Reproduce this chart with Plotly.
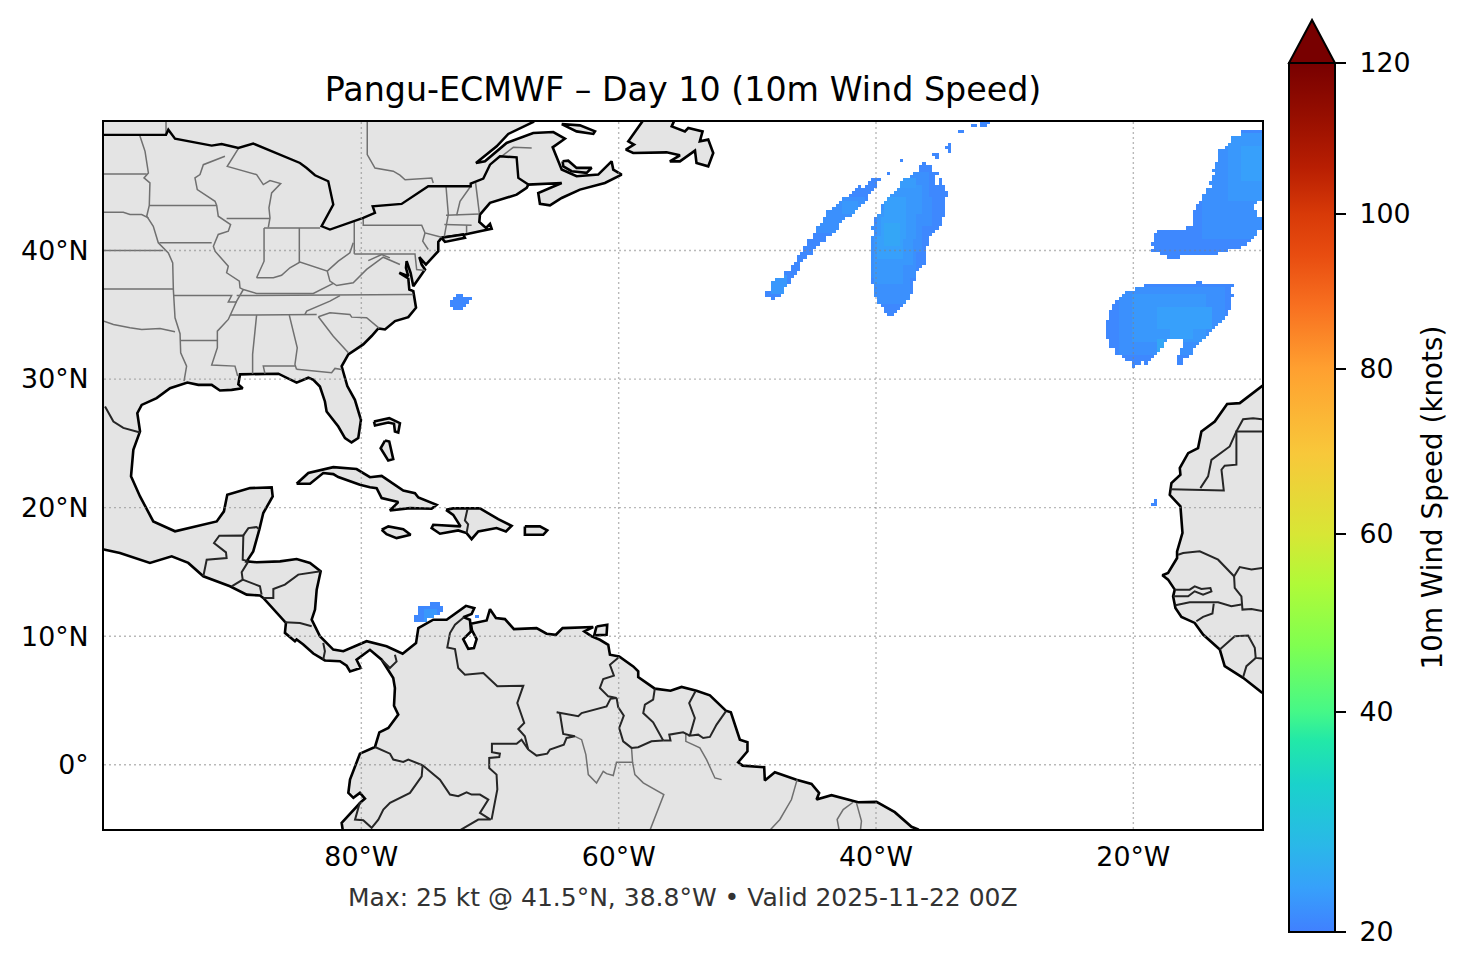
import numpy as np
import plotly.graph_objects as go

LON_TICKS = [-80, -60, -40, -20]
LON_LABELS = ["80°W", "60°W", "40°W", "20°W"]
LAT_TICKS = [0, 10, 20, 30, 40]
LAT_LABELS = ["0°", "10°N", "20°N", "30°N", "40°N"]

# colorbar is not linear in knots, these are where the ticks sit along it
CBAR_SPEEDS = [20, 40, 60, 80, 100, 120]
CBAR_POS = [0, 0.2532, 0.4580, 0.6479, 0.8263, 1]
CBAR_STOPS = [0, 0.05, 0.10, 0.17, 0.22, 0.253, 0.33, 0.40, 0.458, 0.55, 0.648, 0.72, 0.78, 0.826, 0.88, 0.94, 1]
CBAR_COLORS = ["#4080ff", "#37a0fb", "#2ab8e8", "#1ad2cb", "#22e8a8", "#45f888", "#80ff50", "#b0fa38", "#d8e635",
               "#f8c83a", "#ffa030", "#f87020", "#e84c10", "#d83a08", "#b81e02", "#960e00", "#780000"]

# lon, lat
MAINLAND = [(-101, 51), (-66.64, 51), (-66.64, 50.0), (-68.58, 49.07), (-69.48, 48.11), (-71.09, 46.81), (-70.39, 46.94),
    (-68.71, 48.37), (-66.64, 49.14), (-65.08, 49.22), (-64.18, 48.7), (-65.13, 48.03), (-64.43, 46.3), (-63.27, 45.78),
    (-61.59, 45.91), (-60.55, 46.94), (-60.42, 46.3), (-59.77, 45.91), (-61.07, 45.26), (-63.01, 44.74), (-64.43, 44.09),
    (-65.34, 43.52), (-66.12, 43.63), (-66.25, 44.48), (-64.43, 45.26), (-67.02, 45.13), (-67.15, 44.87), (-67.93, 44.35),
    (-70.0, 43.71), (-70.78, 42.8), (-70.83, 42.23), (-70.31, 41.76), (-70.0, 42.07), (-69.87, 41.69), (-70.78, 41.5),
    (-71.95, 41.25), (-73.76, 40.99), (-74.02, 40.67), (-74.02, 39.95), (-74.98, 38.91), (-75.49, 39.48), (-75.31, 38.91),
    (-75.05, 38.52), (-75.96, 37.23), (-76.17, 38.27), (-76.48, 39.17), (-76.53, 38.65), (-76.35, 38.0), (-77.05, 38.27),
    (-76.35, 37.83), (-76.27, 36.97), (-75.96, 36.84), (-75.75, 35.55), (-76.35, 34.82), (-77.38, 34.51), (-78.16, 33.86),
    (-78.68, 33.94), (-79.2, 33.35), (-79.85, 32.7), (-81.01, 31.92), (-81.53, 31.0), (-81.09, 29.46), (-80.5, 28.39),
    (-80.03, 26.83), (-80.24, 25.41), (-80.76, 25.07), (-81.27, 25.41), (-81.79, 26.31), (-82.7, 27.48), (-82.83, 28.26),
    (-83.22, 29.42), (-83.73, 29.94), (-84.12, 30.11), (-85.03, 29.72), (-86.45, 30.42), (-89.43, 30.37), (-89.56, 29.59),
    (-89.22, 29.29), (-90.08, 29.16), (-90.99, 29.11), (-91.63, 29.55), (-92.67, 29.55), (-93.52, 29.73), (-94.87, 29.29),
    (-95.91, 28.52), (-97.07, 27.99), (-97.41, 27.35), (-97.2, 25.93), (-97.72, 24.5), (-97.9, 22.43), (-97.2, 20.87),
    (-96.17, 18.93), (-94.48, 18.16), (-92.8, 18.54), (-91.24, 18.93), (-90.68, 19.71), (-90.42, 21.0), (-88.65, 21.52),
    (-86.97, 21.57), (-86.89, 20.87), (-87.62, 19.58), (-87.93, 18.29), (-88.27, 17.2), (-88.4, 16.6), (-88.91, 15.82),
    (-88.14, 15.75), (-86.32, 15.82), (-85.03, 16.0), (-83.99, 15.7), (-83.16, 15.05), (-83.47, 13.62), (-83.6, 12.07),
    (-83.86, 11.29), (-83.22, 10.0), (-82.18, 8.96), (-81.4, 8.83), (-79.59, 9.61), (-78.04, 9.22), (-76.79, 8.63),
    (-75.75, 9.46), (-75.57, 10.63), (-74.41, 11.28), (-73.37, 11.28), (-71.87, 12.36), (-71.22, 12.18), (-71.43, 11.72),
    (-72.08, 11.48), (-71.56, 11.28), (-71.48, 10.37), (-72.08, 9.77), (-71.69, 9.02), (-71.25, 9.07), (-71.04, 9.77),
    (-71.4, 10.45), (-71.48, 10.97), (-70.26, 11.22), (-70.0, 12.1), (-69.54, 11.41), (-68.84, 11.33), (-68.14, 10.55),
    (-66.38, 10.63), (-65.6, 10.19), (-64.88, 10.11), (-64.36, 10.63), (-61.98, 10.71), (-62.67, 10.37), (-62.1, 9.98),
    (-61.46, 9.72), (-60.81, 9.33), (-60.68, 8.56), (-59.96, 8.43), (-58.87, 7.65), (-58.48, 7.26), (-58.48, 6.82),
    (-57.19, 5.92), (-55.97, 5.76), (-55.11, 6.05), (-53.95, 5.76), (-52.91, 5.4), (-51.67, 4.21), (-51.28, 4.08),
    (-50.58, 1.95), (-49.99, 1.75), (-49.99, 1.05), (-50.71, 0.19), (-50.37, -0.07), (-48.69, -0.2), (-48.64, -1.23),
    (-47.86, -0.59), (-46.18, -1.16), (-45.01, -1.49), (-44.42, -2.19), (-44.62, -2.71), (-43.46, -2.37), (-41.39, -2.92),
    (-39.96, -2.89), (-38.54, -3.69), (-37.24, -4.83), (-36.73, -5.04), (-36.0, -5.6), (-81.45, -5.6), (-81.45, -5.04),
    (-81.53, -4.52), (-80.62, -3.49), (-80.05, -2.92), (-79.72, -2.63), (-80.11, -2.19), (-80.62, -2.58), (-81.01, -2.19),
    (-80.88, -1.16), (-80.11, 0.86), (-78.94, 1.38), (-78.6, 2.52), (-77.9, 2.86), (-77.13, 3.9), (-77.46, 4.59),
    (-77.39, 5.97), (-77.52, 6.74), (-78.42, 8.17), (-79.33, 8.94), (-80.37, 8.17), (-80.05, 7.52), (-80.88, 7.26),
    (-81.14, 7.7), (-81.66, 8.05), (-82.83, 8.11), (-83.73, 8.65), (-84.51, 9.35), (-85.03, 9.74), (-85.16, 9.61),
    (-85.94, 10.26), (-85.86, 11.03), (-87.62, 12.97), (-87.88, 13.16), (-88.91, 13.23), (-90.21, 13.88), (-92.28, 14.66),
    (-93.45, 15.7), (-94.74, 16.21), (-96.43, 15.7), (-98.76, 16.47), (-99.92, 16.73), (-101, 16.9)]

AFRICA = [(-10.05, 29.42), (-11.73, 28.13), (-12.71, 28.07), (-13.67, 26.7), (-14.71, 25.93), (-14.97, 24.63), (-15.74, 24.24),
    (-16.39, 23.08), (-16.34, 22.56), (-17.04, 21.91), (-17.17, 21.0), (-16.34, 20.1), (-16.18, 18.03), (-16.6, 16.6),
    (-16.6, 16.08), (-17.3, 14.92), (-17.74, 14.74), (-17.3, 14.4), (-16.78, 13.62), (-16.91, 13.1), (-16.73, 12.2),
    (-16.26, 11.5), (-15.23, 11.03), (-14.58, 10.13), (-13.28, 8.96), (-12.9, 7.67), (-11.47, 6.76), (-10.05, 5.65),
    (-9, 5.0), (-9, 30.2)]

NEWFOUNDLAND = [(-57.83, 50.5), (-59.25, 48.5), (-58.81, 48.24), (-59.44, 47.85), (-58.87, 47.59), (-56.28, 47.64), (-55.24, 47.41),
    (-56.02, 46.94), (-55.24, 46.94), (-54.07, 47.77), (-53.95, 46.81), (-53.04, 46.55), (-52.65, 47.59), (-53.04, 48.63),
    (-53.69, 48.5), (-53.48, 49.27), (-54.59, 49.53), (-54.85, 49.27), (-55.88, 49.66), (-55.5, 50.5)]
ANTICOSTI = [(-64.43, 49.84), (-63.01, 49.74), (-61.84, 49.27), (-61.97, 49.07), (-63.27, 49.27)]
PEI = [(-64.36, 46.94), (-63.92, 46.99), (-63.27, 46.43), (-62.1, 46.43), (-62.49, 46.04), (-63.66, 46.17), (-64.3, 46.55)]
LONG_ISLAND = [(-73.76, 40.99), (-72.08, 41.25), (-71.95, 40.99), (-73.5, 40.67)]
CUBA = [(-85.03, 21.86), (-84.12, 22.69), (-82.18, 23.15), (-80.37, 23.0), (-79.33, 22.37), (-78.42, 22.47), (-76.74, 21.33),
    (-75.83, 21.13), (-75.57, 20.79), (-74.15, 20.22), (-74.54, 19.91), (-76.22, 19.96), (-77.78, 19.78), (-77.13, 20.43),
    (-78.42, 20.74), (-78.81, 21.52), (-79.33, 21.59), (-80.11, 21.78), (-81.79, 22.38), (-82.18, 22.61), (-82.96, 22.69),
    (-83.99, 21.86)]
JAMAICA = [(-78.42, 18.28), (-77.9, 18.54), (-76.74, 18.33), (-76.17, 17.89), (-77.26, 17.63), (-78.04, 17.94)]
HISPANIOLA = [(-73.42, 19.83), (-72.86, 19.94), (-70.78, 19.94), (-69.36, 19.11), (-68.32, 18.59), (-68.76, 18.15), (-69.49, 18.41),
    (-70.52, 18.23), (-70.91, 18.15), (-71.43, 17.55), (-71.82, 18.02), (-72.47, 18.23), (-73.89, 17.97), (-74.54, 18.41),
    (-74.41, 18.67), (-72.29, 18.54), (-72.86, 19.44)]
PUERTO_RICO = [(-67.29, 18.54), (-66.12, 18.54), (-65.55, 18.23), (-65.86, 17.89), (-67.29, 17.89)]
BAHAMAS_N = [(-79.02, 26.7), (-77.83, 26.96), (-77.0, 26.57), (-77.13, 25.84), (-77.39, 25.92), (-77.46, 26.52), (-77.91, 26.62), (-78.94, 26.39)]
BAHAMAS_S = [(-78.16, 25.22), (-77.83, 25.14), (-77.52, 23.77), (-77.91, 23.67), (-78.5, 24.62)]
TRINIDAD = [(-61.72, 10.76), (-60.89, 10.89), (-60.94, 10.11), (-61.9, 10.06)]

ISLANDS = [NEWFOUNDLAND, ANTICOSTI, PEI, LONG_ISLAND, CUBA, JAMAICA, HISPANIOLA, PUERTO_RICO, BAHAMAS_N, BAHAMAS_S, TRINIDAD]

US_CANADA = [(-100.5, 49.0), (-95.18, 49.0), (-95.0, 49.4), (-94.48, 48.7), (-91.63, 48.16), (-90.86, 48.29), (-89.56, 47.98),
    (-88.4, 48.32), (-84.77, 46.81), (-84.25, 46.42), (-83.6, 45.86), (-82.57, 45.39), (-82.18, 43.58), (-83.09, 41.89),
    (-82.44, 41.63), (-79.85, 42.54), (-78.94, 42.93), (-79.12, 43.45), (-76.87, 43.63), (-74.8, 45.0), (-71.5, 45.0),
    (-71.5, 45.21), (-70.52, 45.6), (-70.0, 46.68), (-69.23, 47.33), (-67.93, 47.25), (-67.8, 45.65), (-67.02, 45.13)]

COUNTRY_BORDERS = [
    [(-99.92, 27.87), (-99.27, 26.7), (-98.5, 26.2), (-97.2, 25.85)],
    [(-92.28, 14.66), (-92.02, 15.95), (-90.47, 16.08), (-90.52, 16.52), (-91.45, 17.25), (-91.04, 17.82), (-89.17, 17.84), (-89.22, 15.95), (-88.78, 15.82)],
    [(-89.17, 17.84), (-88.78, 18.41), (-88.14, 18.49), (-87.93, 18.29)],
    [(-88.78, 15.82), (-89.3, 14.97), (-89.22, 14.4), (-90.08, 13.88)],
    [(-89.22, 14.4), (-87.88, 13.88), (-87.75, 13.23)],
    [(-87.62, 12.97), (-86.84, 12.97), (-86.84, 13.67), (-85.94, 14.01), (-84.9, 14.79), (-83.16, 15.05)],
    [(-85.94, 11.08), (-84.77, 11.03), (-83.86, 10.77)],
    [(-82.96, 9.48), (-82.83, 8.83), (-82.96, 8.18)],
    [(-77.39, 8.56), (-77.26, 8.04), (-77.78, 7.52), (-78.42, 8.17)],
    [(-72.03, 11.48), (-72.72, 10.89), (-73.11, 10.24), (-73.32, 9.13), (-72.72, 9.0), (-72.47, 7.52), (-71.95, 7.0), (-70.52, 7.13),
     (-69.43, 6.1), (-67.41, 6.15), (-67.88, 4.8), (-67.34, 3.25), (-67.8, 2.78), (-67.29, 2.21), (-67.03, 1.18)],
    [(-67.03, 1.18), (-67.55, 1.95), (-67.93, 1.64), (-69.85, 1.64), (-69.85, 0.97), (-69.23, 0.86), (-69.28, 0.6), (-70.06, 0.53),
     (-70.06, -0.25), (-69.49, -0.77), (-69.43, -1.93), (-69.88, -4.27)],
    [(-78.94, 1.38), (-77.77, 0.86), (-77.52, 0.4), (-76.74, 0.22), (-76.35, 0.4), (-75.24, -0.04)],
    [(-75.24, -0.04), (-73.89, -1.16), (-73.11, -2.32), (-72.47, -2.45), (-71.82, -2.14), (-71.43, -2.32), (-70.78, -2.32),
     (-70.13, -2.71), (-70.78, -3.75), (-69.95, -4.27), (-70.91, -4.27), (-72.34, -5.1)],
    [(-75.24, -0.04), (-75.31, -0.9), (-76.22, -2.19), (-77.77, -2.97), (-78.29, -3.49), (-78.68, -4.27), (-79.2, -4.91),
     (-79.85, -4.32), (-80.49, -4.27), (-80.24, -3.36), (-80.11, -2.92)],
    [(-67.03, 1.18), (-66.38, 0.71), (-65.55, 0.86), (-65.34, 1.18), (-64.26, 1.56), (-64.05, 2.08), (-63.4, 2.21), (-64.31, 2.39),
     (-64.57, 4.02), (-64.82, 4.08), (-63.14, 3.77), (-62.88, 4.02), (-60.94, 4.54), (-60.63, 5.14), (-60.16, 5.19)],
    [(-60.16, 5.19), (-60.81, 5.32), (-61.46, 5.97), (-61.2, 6.67), (-60.37, 6.93), (-60.68, 7.78), (-59.96, 8.38)],
    [(-60.16, 5.19), (-60.04, 4.49), (-59.6, 3.82), (-59.96, 2.86), (-59.65, 1.82), (-59.0, 1.31), (-58.48, 1.36), (-57.45, 1.82), (-56.54, 1.88)],
    [(-57.19, 5.92), (-57.32, 5.06), (-57.96, 4.67), (-58.09, 4.02), (-57.32, 3.3), (-56.54, 1.88)],
    [(-56.54, 1.88), (-55.97, 1.88), (-56.07, 2.34), (-54.99, 2.52), (-54.47, 2.26)],
    [(-54.03, 5.71), (-54.52, 4.8), (-54.08, 3.64), (-54.47, 2.26), (-53.82, 2.34), (-53.43, 2.08), (-52.91, 2.16), (-52.39, 3.12), (-51.67, 4.15)],
    [(-17.12, 21.44), (-12.97, 21.34), (-13.15, 22.95), (-12.9, 23.26), (-11.99, 23.34), (-11.99, 25.93), (-9.5, 25.93)],
    [(-14.79, 21.52), (-14.19, 22.43), (-13.93, 23.72), (-12.51, 24.76), (-11.99, 25.93), (-11.47, 26.88), (-10.69, 26.96), (-9.5, 26.83)],
    [(-16.52, 16.34), (-16.13, 16.47), (-14.84, 16.6), (-13.41, 15.95), (-12.17, 14.66), (-11.73, 15.38), (-10.82, 15.18), (-9.5, 15.38)],
    [(-12.17, 14.66), (-12.12, 13.76), (-11.6, 13.1), (-11.52, 12.07), (-10.82, 12.12), (-9.5, 11.86)],
    [(-16.78, 13.62), (-15.62, 13.62), (-15.23, 13.88), (-14.71, 13.67), (-14.01, 13.75), (-13.93, 13.49), (-14.58, 13.23), (-15.23, 13.49), (-15.74, 13.1), (-16.91, 13.1)],
    [(-16.73, 12.41), (-15.62, 12.64), (-13.41, 12.64), (-12.38, 12.33), (-11.6, 12.46)],
    [(-13.75, 12.54), (-13.85, 11.76), (-14.58, 11.5), (-15.1, 11.16)],
    [(-13.28, 8.96), (-12.12, 9.99), (-11.08, 10.05), (-10.56, 9.09), (-10.49, 8.31), (-9.5, 8.2)],
    [(-11.47, 6.81), (-11.21, 7.67), (-10.49, 8.31)],
    [(-71.75, 19.9), (-71.95, 19.0), (-71.7, 18.7), (-71.82, 18.02)],
]

STATE_LINES = [
    [(-97.2, 49.0), (-97.2, 48.89), (-96.81, 47.72), (-96.55, 46.04), (-96.89, 45.65), (-96.43, 45.26), (-96.48, 43.52), (-96.68, 42.67),
     (-96.17, 41.89), (-95.78, 40.6), (-95.0, 39.82), (-94.66, 39.04), (-94.61, 36.97), (-94.48, 34.77), (-94.09, 33.53), (-94.04, 32.05),
     (-93.58, 31.01), (-93.78, 29.85)],
    [(-100.5, 45.96), (-96.68, 45.96)],
    [(-100.5, 42.98), (-98.5, 42.98), (-97.98, 42.8), (-97.07, 42.8), (-96.55, 42.54)],
    [(-100.5, 40.0), (-95.39, 40.0)],
    [(-100.5, 37.0), (-94.61, 37.0)],
    [(-100, 34.51), (-99.27, 34.25), (-97.98, 33.99), (-97.07, 33.86), (-95.65, 33.94), (-94.48, 33.68)],
    [(-96.48, 43.5), (-91.24, 43.5)],
    [(-90.6, 47.33), (-92.28, 46.68), (-92.54, 45.91), (-92.93, 45.65), (-92.75, 44.74), (-91.37, 43.83), (-91.24, 43.5), (-91.12, 42.67),
     (-90.16, 42.02), (-90.34, 41.5), (-91.12, 41.25), (-91.5, 40.34), (-91.37, 39.95), (-90.34, 38.78), (-90.47, 38.27), (-89.48, 37.62),
     (-89.43, 37.1), (-89.17, 36.97), (-89.69, 36.06), (-90.34, 34.64), (-91.19, 33.73), (-91.19, 32.44), (-91.63, 31.09), (-89.82, 31.01), (-89.61, 30.24)],
    [(-95.7, 40.6), (-91.63, 40.6)],
    [(-94.61, 36.5), (-90.08, 36.5), (-90.34, 36.0), (-89.69, 36.0)],
    [(-89.69, 36.5), (-75.96, 36.58)],
    [(-90.21, 34.98), (-83.47, 35.03)],
    [(-83.34, 34.85), (-82.44, 35.16), (-80.89, 35.03), (-80.75, 34.82), (-79.59, 34.77), (-78.6, 33.94)],
    [(-81.66, 36.5), (-82.44, 36.06), (-84.25, 35.29), (-84.38, 35.03)],
    [(-94.04, 33.0), (-91.19, 33.0)],
    [(-88.14, 34.98), (-88.45, 31.92), (-88.45, 30.42)],
    [(-85.6, 34.98), (-84.98, 32.44), (-85.16, 31.14), (-85.03, 30.75)],
    [(-87.49, 30.42), (-87.62, 31.01), (-85.16, 31.01)],
    [(-85.03, 30.76), (-82.31, 30.5), (-82.05, 30.83), (-81.53, 30.75)],
    [(-83.34, 34.85), (-82.18, 33.34), (-81.01, 32.05)],
    [(-87.56, 41.76), (-87.56, 39.17), (-88.14, 37.88)],
    [(-84.82, 41.76), (-84.82, 39.04)],
    [(-87.56, 41.76), (-83.2, 41.76)],
    [(-90.47, 42.49), (-87.1, 42.49)],
    [(-89.56, 47.93), (-90.42, 46.55), (-88.14, 45.91), (-87.62, 45.13), (-87.1, 45.44), (-86.27, 45.21), (-86.97, 44.48), (-87.18, 43.32),
     (-87.1, 42.54), (-87.23, 41.81)],
    [(-88.14, 37.88), (-86.84, 37.88), (-86.2, 38.08), (-85.55, 38.66), (-84.77, 39.1), (-83.47, 38.66), (-82.65, 38.4), (-82.44, 37.62),
     (-81.92, 37.28), (-80.63, 37.49), (-79.59, 38.53), (-78.3, 39.48), (-77.0, 38.91)],
    [(-89.17, 36.97), (-88.14, 36.66), (-83.73, 36.66), (-82.18, 37.44)],
    [(-82.65, 38.4), (-81.79, 39.17), (-80.89, 39.82), (-80.63, 40.6)],
    [(-80.55, 42.28), (-80.55, 39.74)],
    [(-80.55, 39.74), (-75.83, 39.74), (-75.7, 38.52), (-75.05, 38.45)],
    [(-79.46, 39.22), (-78.42, 39.69), (-77.78, 39.43)],
    [(-79.85, 42.54), (-79.85, 41.97), (-75.31, 41.97), (-75.05, 41.37), (-73.76, 41.04)],
    [(-75.05, 41.37), (-75.23, 40.73), (-74.8, 40.08)],
    [(-73.42, 45.0), (-73.24, 42.8), (-73.55, 41.1)],
    [(-71.5, 45.0), (-72.33, 43.83), (-72.59, 42.75)],
    [(-71.12, 45.26), (-70.83, 42.93)],
    [(-73.42, 42.75), (-70.83, 42.85)],
    [(-73.55, 42.02), (-71.43, 41.97)],
    [(-71.82, 41.97), (-71.82, 41.37)],
    [(-95.18, 50.5), (-95.18, 49.0)],
    [(-79.54, 50.5), (-79.54, 47.46), (-78.94, 46.42), (-77.52, 46.17), (-77.0, 45.86), (-76.6, 45.5), (-74.53, 45.65), (-74.41, 45.26)],
    [(-69.1, 47.33), (-68.45, 47.85), (-68.19, 48.03), (-66.76, 47.98)],
    # Brazil and the Guianas, the grey ones
    [(-59.0, 1.31), (-58.92, 0.19), (-60.17, 0.19), (-60.42, -0.84), (-60.94, -0.69), (-61.2, -0.51), (-61.72, -1.42), (-62.36, -0.77),
     (-62.55, 0.79), (-62.88, 1.95), (-63.4, 2.21)],
    [(-58.92, 0.19), (-58.74, -0.77), (-58.09, -1.41), (-56.49, -2.32), (-57.57, -5.1)],
    [(-54.78, 2.4), (-54.78, 1.82), (-53.69, 1.31), (-53.17, 0.4), (-52.52, -1.03), (-52.0, -1.16)],
    [(-46.13, -1.16), (-46.57, -2.71), (-47.47, -4.26), (-48.25, -5.1)],
    [(-41.78, -2.92), (-42.55, -3.49), (-43.02, -4.26), (-42.86, -5.1)],
    [(-41.52, -2.97), (-41.13, -4.39), (-41.21, -5.1)],
]

# wind: (lat, lon west, lon east) per row of the 0.25 degree grid
WIND_BLOB_A = [(45.5, -40.4, -39.7), (45.25, -40.65, -39.95), (45.0, -41.4, -41.15), (45.0, -40.9, -39.95), (44.75, -41.65, -40.15),
    (44.5, -41.9, -40.4), (44.25, -42.15, -40.65), (44.0, -42.65, -40.65), (43.75, -42.9, -40.9), (43.5, -43.2, -41.15),
    (43.25, -43.4, -41.4), (43.0, -43.9, -41.65), (42.75, -43.9, -41.9), (42.5, -44.1, -42.4), (42.25, -44.1, -42.65),
    (42.0, -44.4, -42.9), (41.75, -44.65, -42.9), (41.5, -44.65, -43.2), (41.25, -44.9, -43.4), (41.0, -44.9, -43.9),
    (40.75, -45.35, -43.9), (40.5, -45.35, -44.4), (40.25, -45.65, -44.65), (40.0, -45.65, -44.9), (39.75, -45.9, -44.9),
    (39.5, -46.15, -45.35), (39.25, -46.15, -45.65), (39.0, -46.4, -45.9), (38.75, -46.65, -45.9), (38.5, -46.65, -45.9),
    (38.25, -47.05, -46.15), (38.0, -47.15, -46.4), (37.75, -47.9, -46.65), (37.5, -48.15, -46.65), (37.25, -48.15, -46.9),
    (37.0, -48.15, -47.15), (36.75, -48.6, -47.15), (36.5, -48.6, -47.4), (36.25, -48.15, -47.9)]
WIND_BLOB_B = [(46.75, -36.4, -36.15), (46.5, -36.6, -35.65), (46.25, -36.6, -35.65), (46.0, -37.15, -35.2), (45.75, -37.45, -35.4),
    (45.5, -37.9, -35.4), (45.5, -35.15, -34.9), (45.25, -38.1, -35.4), (45.25, -35.15, -34.9), (45.0, -38.1, -34.65), (44.75, -38.4, -34.65),
    (44.5, -38.65, -34.45), (44.25, -38.9, -34.45), (44.0, -39.15, -34.65), (43.75, -39.4, -34.65), (43.5, -39.7, -34.65),
    (43.25, -39.7, -34.65), (43.0, -39.7, -34.65), (42.75, -39.95, -34.65), (42.5, -40.15, -34.9), (42.25, -40.15, -34.9),
    (42.0, -40.15, -34.9), (41.75, -40.4, -35.15), (41.5, -40.15, -35.4), (41.25, -40.15, -35.65), (41.0, -40.4, -35.9),
    (40.75, -40.4, -35.9), (40.5, -40.4, -35.9), (40.25, -40.4, -36.15), (40.0, -40.4, -36.15), (39.75, -40.4, -36.15),
    (39.5, -40.4, -36.15), (39.25, -40.4, -36.15), (39.0, -40.4, -36.15), (38.75, -40.4, -36.45), (38.5, -40.4, -36.7),
    (38.25, -40.4, -37.0), (38.0, -40.4, -37.0), (37.75, -40.4, -36.95), (37.5, -40.4, -37.15), (37.25, -40.15, -37.15),
    (37.0, -40.15, -37.15), (36.75, -40.15, -37.15), (36.5, -40.15, -37.45), (36.25, -39.95, -37.45), (36.0, -39.95, -37.7),
    (35.75, -39.7, -37.9), (35.5, -39.4, -38.2), (35.25, -39.4, -38.4), (35.0, -39.15, -38.65)]
WIND_BLOB_C = [(49.25, -11.6, -9.9), (49.0, -11.6, -9.9), (48.75, -12.4, -9.9), (48.5, -12.4, -9.9), (48.25, -12.6, -9.9), (48.0, -12.85, -9.9),
    (47.75, -13.4, -9.9), (47.5, -13.4, -9.9), (47.25, -13.4, -9.9), (47.0, -13.4, -9.9), (46.75, -13.6, -9.9), (46.5, -13.6, -9.9),
    (46.25, -13.85, -9.9), (46.0, -13.6, -9.9), (45.75, -13.85, -9.9), (45.5, -13.85, -9.9), (45.25, -14.1, -9.9), (45.0, -13.85, -9.9),
    (44.75, -14.4, -9.9), (44.5, -14.4, -9.9), (44.25, -14.65, -9.9), (44.0, -14.65, -9.9), (43.75, -14.9, -10.4), (43.5, -15.1, -10.6),
    (43.25, -15.1, -10.6), (43.0, -15.4, -10.4), (42.75, -15.4, -10.4), (42.5, -15.4, -9.9), (42.25, -15.4, -9.9), (42.0, -15.4, -9.9),
    (41.75, -15.9, -9.9), (41.5, -18.15, -10.4), (41.25, -18.4, -10.4), (41.0, -18.4, -10.6), (40.75, -18.4, -10.9), (40.5, -18.6, -11.15),
    (40.25, -18.4, -11.65), (40.0, -18.6, -12.6), (39.75, -17.9, -13.4), (39.5, -17.35, -16.35)]
WIND_BLOB_D = [(37.5, -15.1, -14.65), (37.25, -19.15, -12.15), (37.0, -19.85, -12.4), (36.75, -20.6, -12.4), (36.5, -20.85, -12.15),
    (36.25, -21.15, -12.4), (36.0, -21.4, -12.4), (35.75, -21.6, -12.4), (35.5, -21.6, -12.4), (35.25, -21.85, -12.6), (35.0, -21.85, -12.6),
    (34.75, -21.85, -12.85), (34.5, -22.1, -13.15), (34.25, -22.1, -13.4), (34.0, -22.1, -13.6), (33.75, -22.1, -13.85), (33.5, -22.1, -14.15),
    (33.25, -22.1, -14.4), (33.0, -21.85, -17.4), (33.0, -16.1, -14.7), (32.75, -21.85, -17.65), (32.75, -16.1, -14.85), (32.5, -21.85, -17.65),
    (32.5, -16.1, -15.2), (32.25, -21.4, -17.9), (32.25, -16.35, -15.4), (32.0, -21.4, -18.15), (32.0, -16.35, -15.4), (31.75, -20.85, -18.4),
    (31.75, -16.65, -15.65), (31.5, -20.6, -18.6), (31.5, -16.65, -16.15), (31.25, -20.1, -19.4), (31.25, -19.2, -18.95), (31.25, -16.65, -16.15),
    (31.0, -20.1, -19.85)]
WIND_SMALL = [(36.5, -72.65, -72.2), (36.25, -72.9, -71.4), (36.0, -73.1, -71.6), (35.75, -73.1, -71.85), (35.5, -72.9, -72.15),
    (12.5, -74.65, -73.9), (12.25, -75.65, -73.7), (12.0, -75.65, -73.7), (11.75, -75.65, -73.95), (11.5, -75.9, -74.5), (11.25, -75.9, -74.8),
    (11.5, -71.15, -70.95), (20.5, -18.35, -18.2), (20.25, -18.6, -18.2), (47.0, -38.1, -37.9), (46.0, -39.15, -38.95),
    (47.5, -35.65, -35.2), (47.25, -35.4, -35.2), (48.25, -34.35, -34.15), (48.0, -34.55, -34.15), (47.75, -34.35, -34.15),
    (49.5, -33.2, -33.05), (49.25, -33.6, -33.15), (49.75, -32.6, -32.15), (49.75, -31.75, -31.5), (50.0, -31.75, -31.1)]
WIND_SPANS = WIND_BLOB_A + WIND_BLOB_B + WIND_BLOB_C + WIND_BLOB_D + WIND_SMALL

# the faster bits inside the blobs: (lat south, lat north, lon west, lon east, knots)
WIND_CORES = [(36, 38, -40.2, -37.5, 22), (38, 40, -40.4, -36.8, 22), (40, 42, -40.3, -36.3, 22), (42, 44, -39.9, -35.6, 22), (44, 46, -38.5, -35.8, 22),
    (37.5, 39, -40, -38, 23), (39, 41, -40.2, -37.2, 23), (41, 43, -39.9, -37, 23), (43, 45, -39, -36.5, 23), (45, 45.7, -38, -37, 23.5),
    (39.5, 41, -39.8, -38, 24), (41, 42.5, -39.7, -37.6, 24), (42.5, 44, -39.3, -37.7, 24), (40.5, 42, -39.4, -38.2, 25),
    (41.5, 44, -44.5, -41, 22), (43, 43.75, -42.5, -41.5, 23), (36.75, 38, -48, -47, 23),
    (41, 48.5, -14.5, -10, 22), (44, 49, -12.5, -10, 23), (45.5, 48, -11.5, -10, 24),
    (32, 37, -21, -13, 22), (33, 36.5, -20, -14.5, 23), (34, 35.5, -18, -14, 24), (33.25, 34, -17, -15.5, 24), (32.25, 33, -18.2, -17.6, 25),
    (11.25, 12, -75.2, -74.2, 23)]
WIND_BASE = 21

lons = np.arange(-100, -9.75, 0.25)
lats = np.arange(-5, 50.25, 0.25)
speed = np.full((len(lats), len(lons)), np.nan)
for lat, west, east in WIND_SPANS:
    row = np.argmin(np.abs(lats - lat))
    speed[row, (lons >= west) & (lons <= east)] = WIND_BASE
for south, north, west, east, knots in WIND_CORES:
    box = np.ix_((lats >= south) & (lats <= north), (lons >= west) & (lons <= east))
    part = speed[box]
    part[~np.isnan(part)] = knots
    speed[box] = part

# heatmap colours follow position on the bar, not knots
z = np.interp(speed, CBAR_SPEEDS, CBAR_POS)
z[np.isnan(speed)] = np.nan

colorscale = [[s, c] for s, c in zip(CBAR_STOPS, CBAR_COLORS)]

fig = go.Figure()
fig.add_trace(go.Heatmap(
    x=lons, y=lats, z=z, zmin=0, zmax=1, colorscale=colorscale, hoverinfo="skip",
    colorbar=dict(
        x=1.0233, xanchor="left", y=-0.1457, yanchor="bottom",
        lenmode="fraction", len=1.2291, thicknessmode="pixels", thickness=46,
        xpad=0, ypad=0, outlinewidth=2, outlinecolor="black",
        tickmode="array", tickvals=CBAR_POS, ticktext=["\u00a0" + str(v) for v in CBAR_SPEEDS],
        ticks="outside", ticklen=10, tickwidth=2, tickcolor="black",
        tickfont=dict(family="DejaVu Sans", size=26.8, color="black"),
    ),
))

for poly in [MAINLAND, AFRICA] + ISLANDS:
    fig.add_trace(go.Scatter(
        x=[p[0] for p in poly] + [poly[0][0]], y=[p[1] for p in poly] + [poly[0][1]],
        mode="lines", fill="toself", fillcolor="#e4e4e4", line=dict(color="black", width=2.6),
        showlegend=False, hoverinfo="skip",
    ))

for line in STATE_LINES:
    fig.add_trace(go.Scatter(x=[p[0] for p in line], y=[p[1] for p in line], mode="lines",
                             line=dict(color="#707070", width=1.5), showlegend=False, hoverinfo="skip"))
for line in COUNTRY_BORDERS:
    fig.add_trace(go.Scatter(x=[p[0] for p in line], y=[p[1] for p in line], mode="lines",
                             line=dict(color="#262626", width=2), showlegend=False, hoverinfo="skip"))
fig.add_trace(go.Scatter(x=[p[0] for p in US_CANADA], y=[p[1] for p in US_CANADA], mode="lines",
                         line=dict(color="black", width=2.4), showlegend=False, hoverinfo="skip"))

# dotted graticule goes on top of the land
grid = dict(color="rgba(128,128,128,0.55)", width=1.4, dash="2px,3px")
for lon in LON_TICKS:
    fig.add_trace(go.Scatter(x=[lon, lon], y=[-5, 50], mode="lines", line=grid, showlegend=False, hoverinfo="skip"))
for lat in LAT_TICKS:
    fig.add_trace(go.Scatter(x=[-100, -10], y=[lat, lat], mode="lines", line=grid, showlegend=False, hoverinfo="skip"))

label_font = dict(family="DejaVu Sans", size=26.8, color="black")
fig.update_xaxes(range=[-100, -10], showgrid=False, zeroline=False, showline=True, mirror=True, linecolor="black", linewidth=2,
                 tickmode="array", tickvals=LON_TICKS, ticktext=LON_LABELS, ticks="", ticklabelstandoff=3, tickfont=label_font)
fig.update_yaxes(range=[-5, 50], showgrid=False, zeroline=False, showline=True, mirror=True, linecolor="black", linewidth=2,
                 tickmode="array", tickvals=LAT_TICKS, ticktext=LAT_LABELS, ticks="", ticklabelstandoff=8, tickfont=label_font)

# the page body adds 8px all round, so the figure is that much smaller
fig.update_layout(
    width=1450, height=953,
    margin=dict(l=96, r=196, t=114, b=132, autoexpand=False),
    paper_bgcolor="white", plot_bgcolor="white",
    font=dict(family="DejaVu Sans"),
    title=dict(text="Pangu-ECMWF – Day 10 (10m Wind Speed)", x=0.5, xref="paper", xanchor="center",
               y=1 - 81 / 953, yref="container", yanchor="middle",
               font=dict(family="DejaVu Sans", size=33.3, color="black")),
    annotations=[
        dict(text="Max: 25 kt @ 41.5°N, 38.8°W • Valid 2025-11-22 00Z", xref="paper", yref="paper", x=0.5, y=-0.0962,
             showarrow=False, xanchor="center", yanchor="middle", font=dict(family="DejaVu Sans", size=25, color="#333333")),
        dict(text="10m Wind Speed (knots)", xref="paper", yref="paper", x=1.1468, y=0.469, textangle=-90,
             showarrow=False, xanchor="center", yanchor="middle", font=dict(family="DejaVu Sans", size=27.8, color="black")),
    ],
    # extend arrow on top of the colorbar
    shapes=[dict(type="path", xref="paper", yref="paper", path="M 1.0233 1.0835 L 1.0432 1.1443 L 1.0630 1.0835 Z",
                 fillcolor="#780000", line=dict(color="black", width=2))],
)

fig.write_html("out.html")
